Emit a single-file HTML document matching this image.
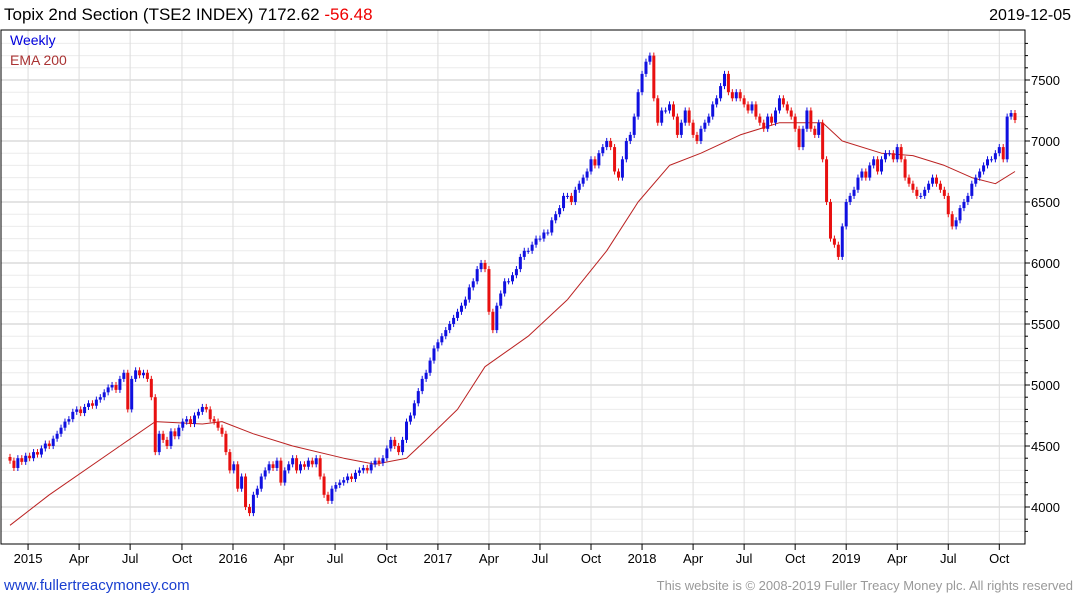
<!DOCTYPE html>
<html><head><meta charset="utf-8"><style>
body{margin:0;background:#fff;font-family:"Liberation Sans",sans-serif}
svg{display:block}
</style></head><body>
<svg id="c" width="1075" height="600" xmlns="http://www.w3.org/2000/svg">
<text x="4" y="20" font-size="17" fill="#000">Topix 2nd Section (TSE2 INDEX) 7172.62 <tspan fill="#e00">-56.48</tspan></text>
<text x="1071" y="20" font-size="16" text-anchor="end" fill="#000">2019-12-05</text>
<g id="grid"></g>
<g id="ema"></g>
<g id="candles"></g>
<g id="axes"></g>
<text x="10" y="45" font-size="14" fill="#00d">Weekly</text>
<text x="10" y="65" font-size="14" fill="#a33">EMA 200</text>
<text x="4" y="590" font-size="15" fill="#1a3fd0">www.fullertreacymoney.com</text>
<text x="1073" y="590" font-size="13" text-anchor="end" fill="#999">This website is © 2008-2019 Fuller Treacy Money plc. All rights reserved</text>
</svg>
<script>
const closes=[4380,4320,4400,4370,
4420,4400,4450,4430,
4480,4520,4500,4560,
4600,4650,4700,4720,
4780,4800,4770,4820,4850,
4830,4880,4900,4940,
4980,5000,4960,5050,
5100,4800,5050,5120,5080,
5100,5050,4900,4450,
4600,4550,4500,4620,
4580,4650,4700,4720,4680,
4750,4780,4820,4800,
4720,4700,4650,4600,
4450,4300,4350,4150,4250,
4000,3950,4100,4150,
4250,4300,4350,4320,
4380,4200,4300,4350,4400,
4300,4350,4330,4380,
4350,4400,4250,4100,
4050,4150,4180,4200,4220,
4250,4230,4280,4300,
4320,4300,4350,4380,4360,
4400,4480,4550,4500,
4450,4550,4700,4750,
4850,4950,5050,5100,5200,
5300,5350,5400,5450,
5500,5550,5600,5650,
5700,5800,5850,5950,6000,
5950,5600,5450,5650,
5750,5850,5850,5900,
5950,6050,6100,6100,
6150,6200,6200,6250,6250,
6350,6400,6450,6550,
6550,6500,6600,6650,
6700,6750,6850,6800,6900,
6950,7000,6950,6750,
6700,6850,7000,7050,
7200,7400,7550,7650,7700,
7350,7150,7250,7250,
7300,7200,7050,7150,7250,
7150,7050,7000,7100,
7150,7200,7300,7350,
7450,7550,7400,7350,7400,
7350,7300,7250,7300,
7200,7150,7100,7200,7150,
7250,7350,7300,7250,
7200,7100,6950,7100,
7250,7100,7050,7150,
6850,6500,6200,6150,
6050,6300,6500,6550,
6600,6700,6750,6700,
6800,6850,6750,6850,
6900,6900,6850,6950,
6850,6700,6650,6600,
6550,6550,6600,6650,
6700,6650,6600,6550,
6400,6300,6350,6450,
6500,6550,6650,6700,
6750,6800,6850,6850,
6900,6950,6850,7200,
7229,7172];
const emaWeeks=[0,10,28,37,49,54,62,72,85,93,101,106,114,121,132,142,152,160,168,176,186,196,207,212,222,230,238,245,251,256];
const emaVals=[3850,4100,4500,4700,4680,4700,4600,4500,4400,4350,4400,4550,4800,5150,5400,5700,6100,6500,6800,6900,7050,7150,7150,7000,6900,6880,6800,6700,6650,6750];
const yTicks=[4000,4500,5000,5500,6000,6500,7000,7500];
const xLabels=["2015","Apr","Jul","Oct","2016","Apr","Jul","Oct","2017","Apr","Jul","Oct","2018","Apr","Jul","Oct","2019","Apr","Jul","Oct"];
const xLabelWeeks=[4.6,17.6,30.6,43.8,56.8,69.8,82.8,96,109,122,135,148,161,174,187,200,213,226,239,252];

const NS="http://www.w3.org/2000/svg";
const L=1,R=1025,T=30,B=544;
const n=closes.length;
const X0=10,X1=1015;
function xs(i){return X0+i*(X1-X0)/(n-1);}
function ys(v){return 507-(v-4000)*61/500;}
function mk(tag,attrs,parent){const e=document.createElementNS(NS,tag);for(const k in attrs)e.setAttribute(k,attrs[k]);parent.appendChild(e);return e;}
const grid=document.getElementById('grid'),axes=document.getElementById('axes');
for(let v=3800;v<=7800;v+=100){const y=ys(v);if(y<T||y>B)continue;
 const ln=mk('line',{x1:L,x2:R,y1:y,y2:y,stroke:v%500===0?'#c8c8c8':'#ececec','stroke-width':1},grid);
 
 }
xLabelWeeks.forEach((w,k)=>{const x=xs(w);
 const ln=mk('line',{x1:x,x2:x,y1:T,y2:B,stroke:'#dcdcdc','stroke-width':1},grid);
 
 
 const tk=mk('line',{x1:x,x2:x,y1:B,y2:B+6,stroke:'#000'},axes);
 
 
 const t=mk('text',{x:x,y:563,'font-size':13,'text-anchor':'middle',fill:'#000'},axes);t.textContent=xLabels[k];
 
 });
mk('rect',{x:L,y:T,width:R-L,height:B-T,fill:'none',stroke:'#000','stroke-width':1},axes);
for(let v=3800;v<=7800;v+=100){const y=ys(v);if(y<T||y>B)continue;
 const tk=mk('line',{x1:R,x2:R+(v%500===0?5:3),y1:y,y2:y,stroke:'#000'},axes);
 
 }
yTicks.forEach(v=>{const t=mk('text',{x:1031,y:ys(v)+5,'font-size':13,fill:'#000'},axes);t.textContent=v;
 
 });
let d='';emaWeeks.forEach((w,k)=>{d+=(k?'L':'M')+xs(w).toFixed(1)+','+ys(emaVals[k]).toFixed(1);});
const ep=mk('path',{d:d,fill:'none',stroke:'#b22','stroke-width':1,'stroke-linejoin':'round'},document.getElementById('ema'));


const cg=document.getElementById('candles');
closes.forEach((c,i)=>{const o=i?closes[i-1]:c+30;const up=c>=o;const col=up?'#1010e0':'#e81010';
 const x=xs(i);const hi=Math.max(o,c)+25,lo=Math.min(o,c)-25;
 const g=mk('g',{},cg);
 
 
 mk('line',{x1:x,x2:x,y1:ys(hi),y2:ys(lo),stroke:col,'stroke-width':1},g);
 const top=ys(Math.max(o,c)),bot=ys(Math.min(o,c));
 mk('rect',{x:x-1.5,y:top,width:3,height:Math.max(1,bot-top),fill:col},g);});
</script>
</body></html>
